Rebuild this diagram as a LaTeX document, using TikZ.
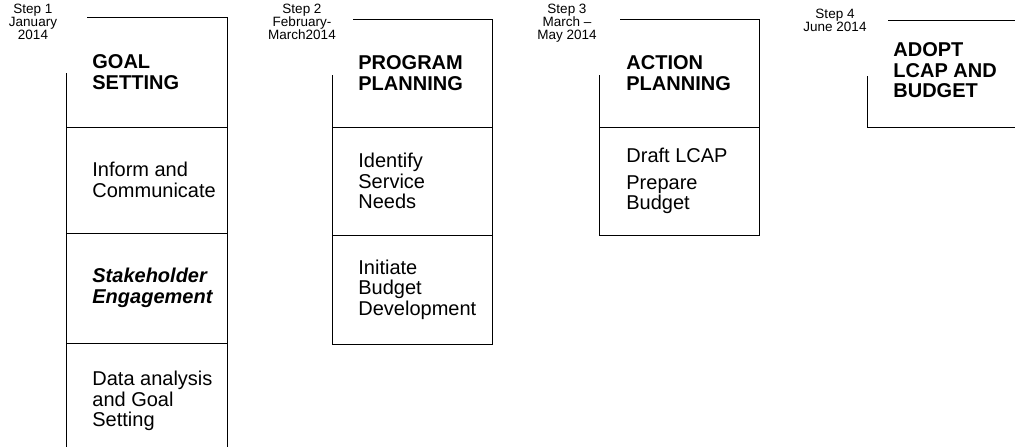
\documentclass[tikz,border=0pt]{standalone}
\usepackage{fontspec}
\setmainfont{Liberation Sans}
\usetikzlibrary{positioning}
\newcommand{\stagefont}{\fontsize{20}{20.5}\selectfont}
\newcommand{\headframe}[1]{\draw ([xshift=21pt]#1.north west) -- (#1.north east) -- (#1.south east) -- (#1.south west) -- ([yshift=-56pt]#1.north west);}

\begin{document}
\begin{tikzpicture}[x=1pt,y=-1pt,line width=0.8pt,
    frame/.style={draw,inner sep=0pt,outer sep=0pt,anchor=north west,minimum width=160pt},
    head/.style={frame,draw=none},
    txt/.style={inner sep=0pt,align=left,font=\stagefont},
    htxt/.style={txt,font=\stagefont\bfseries},
    steplbl/.style={inner sep=0pt,align=center,anchor=north,font=\fontsize{13.5}{12.6}\selectfont}]
  \useasboundingbox (0,0) rectangle (1015,447);
  % step 1
  \node[steplbl] (step1) at (33,4) {Step 1\\January\\2014};
  \node[head,minimum width=161pt,minimum height=110pt] (goal) at (66,17) {};
  \node[frame,minimum width=161pt,minimum height=106pt] (inform) at (66,127) {};
  \node[frame,minimum width=161pt,minimum height=110pt] (stake) at (66,233) {};
  \node[frame,minimum width=161pt,minimum height=112pt] (data) at (66,343) {};
  \headframe{goal}
  \node[htxt,right=26pt of goal.west] (goalt) {GOAL\\SETTING};
  \node[txt,right=26pt of inform.west] (informt) {Inform and\\Communicate};
  \node[txt,font=\stagefont\bfseries\itshape,right=26pt of stake.west] (staket) {Stakeholder\\Engagement};
  \node[txt,right=26pt of data.west,yshift=-2pt] (datat) {Data analysis\\and Goal\\Setting};
  % step 2
  \node[steplbl] (step2) at (302,4) {Step 2\\February-\\March2014};
  \node[head,minimum height=108pt] (program) at (332,19) {};
  \node[frame,minimum height=108pt] (service) at (332,127) {};
  \node[frame,minimum height=109pt] (budget) at (332,235) {};
  \headframe{program}
  \node[htxt,right=26pt of program.west] (programt) {PROGRAM\\PLANNING};
  \node[txt,right=26pt of service.west] (servicet) {Identify\\Service\\Needs};
  \node[txt,right=26pt of budget.west] (budgett) {Initiate\\Budget\\Development};
  % step 3
  \node[steplbl] (step3) at (567,4) {Step 3\\March --\\May 2014};
  \node[head,minimum height=108pt] (action) at (599,19) {};
  \node[frame,minimum height=108pt] (draft) at (599,127) {};
  \headframe{action}
  \node[htxt,right=27pt of action.west] (actiont) {ACTION\\PLANNING};
  \node[txt,right=27pt of draft.west] (draftt) {Draft LCAP\\[6pt]Prepare\\Budget};
  % step 4
  \node[steplbl] (step4) at (835,9) {Step 4\\June 2014};
  \node[head,minimum height=107pt] (adopt) at (867,20) {};
  \headframe{adopt}
  \node[htxt,right=26pt of adopt.west,yshift=3pt] (adoptt) {ADOPT\\LCAP AND\\BUDGET};
\end{tikzpicture}
\end{document}
